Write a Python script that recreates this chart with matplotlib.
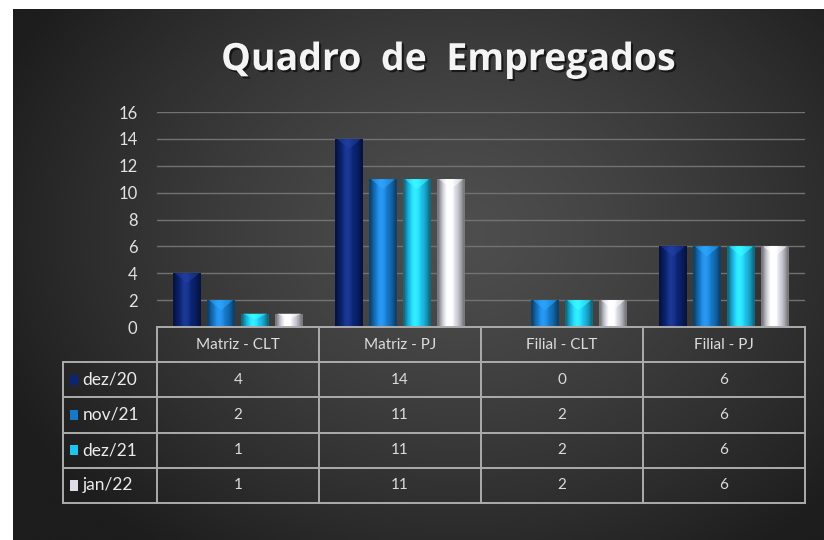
import numpy as np
import matplotlib
matplotlib.use("Agg")
import matplotlib.pyplot as plt
import matplotlib.patheffects as pe
from matplotlib.colors import LinearSegmentedColormap, to_rgb
from matplotlib.patches import Rectangle, Polygon

# dados do quadro
categorias = ['Matriz - CLT', 'Matriz - PJ', 'Filial - CLT', 'Filial - PJ']
periodos = ['dez/20', 'nov/21', 'dez/21', 'jan/22']
dez20 = [4, 14, 0, 6]
nov21 = [2, 11, 2, 6]
dez21 = [1, 11, 2, 6]
jan22 = [1, 11, 2, 6]
series = [dez20, nov21, dez21, jan22]
cores = ['#0b2475', '#1678c8', '#1ec3ef', '#dcdde6']
yticks = list(range(0, 17, 2))

plt.rcParams['font.family'] = ['Lato', 'DejaVu Sans']

W, H = 824, 540
fig = plt.figure(figsize=(W / 100, H / 100), dpi=100)
fig.patch.set_facecolor('white')

# fundo escuro com gradiente radial
bg = fig.add_axes([13 / W, 0, (W - 13) / W, (H - 9) / H])
bg.axis('off')
gx, gy = np.meshgrid(np.linspace(0, 1, 300), np.linspace(0, 1, 200))
d = np.sqrt(((gx - 0.55) / 0.62) ** 2 + ((gy - 0.42) / 0.75) ** 2)
d = np.clip(d, 0, 1) ** 1.3
cmap_bg = LinearSegmentedColormap.from_list('bg', ['#4e4e4e', '#1d1d1d'])
bg.imshow(d, cmap=cmap_bg, aspect='auto', extent=(0, 1, 0, 1), origin='upper', vmin=0, vmax=1)
bg.set_xlim(0, 1)
bg.set_ylim(0, 1)

# area do grafico
x0, x1 = 157, 805
y0, y16 = 327, 112
ax = fig.add_axes([x0 / W, (H - y0) / H, (x1 - x0) / W, (y0 - y16) / H])
ax.set_facecolor('none')
ax.set_xlim(-0.5, len(categorias) - 0.5)
ax.set_ylim(0, 16)
ax.set_yticks(yticks)
ax.set_yticklabels([str(t) for t in yticks])
ax.tick_params(axis='y', length=0, labelcolor='#e2e2e2', labelsize=12, pad=14)
ax.set_xticks([])
for s in ax.spines.values():
    s.set_visible(False)
for t in yticks[1:]:
    ax.axhline(t, color='#727272', lw=1.0, zorder=1)

bw = 0.168
step = 0.21
perfil = np.array([0.55, 0.8, 1.0, 1.12, 1.15, 1.1, 1.0, 0.9, 0.75, 0.55])
for i, (vals, cor) in enumerate(zip(series, cores)):
    base = np.array(to_rgb(cor))
    grad = np.clip(base[None, :] * perfil[:, None] + (perfil[:, None] - 1).clip(0) * 0.4, 0, 1)
    for j, v in enumerate(vals):
        if v == 0:
            continue
        xc = j + (i - 1.5) * step
        rect = Rectangle((xc - bw / 2, 0), bw, v, facecolor='none', edgecolor='none', zorder=3)
        ax.add_patch(rect)
        im = ax.imshow(grad[None, :, :], extent=(xc - bw / 2, xc + bw / 2, 0, v),
                       aspect='auto', zorder=3, interpolation='bilinear')
        im.set_clip_path(rect)
        topo = np.clip(base * 1.25 + 0.08, 0, 1)
        tri = Polygon([(xc - bw / 2 + 0.01, v), (xc + bw / 2 - 0.01, v), (xc, v - min(0.75, v * 0.45))],
                      closed=True, facecolor=topo, edgecolor='none', alpha=0.55, zorder=4)
        ax.add_patch(tri)
ax.set_xlim(-0.5, len(categorias) - 0.5)
ax.set_ylim(0, 16)

# tabela de dados
tx0, ty0, ty1 = 63, 327, 503
cw = (x1 - x0) / len(categorias)
xl = -0.5 - (x0 - tx0) / cw
nrows = len(periodos) + 1
tb = fig.add_axes([tx0 / W, (H - ty1) / H, (x1 - tx0) / W, (ty1 - ty0) / H])
tb.axis('off')
tb.set_xlim(xl, len(categorias) - 0.5)
tb.set_ylim(nrows, 0)
lc = '#acacac'
tb.plot([-0.5, len(categorias) - 0.5], [0, 0], color=lc, lw=1.4, clip_on=False)
for r in range(1, nrows + 1):
    tb.plot([xl, len(categorias) - 0.5], [r, r], color=lc, lw=1.4, clip_on=False)
tb.plot([xl, xl], [1, nrows], color=lc, lw=1.4, clip_on=False)
for c in range(len(categorias) + 1):
    tb.plot([c - 0.5, c - 0.5], [0, nrows], color=lc, lw=1.4, clip_on=False)

tcor = '#dcdcdc'
for j, cat in enumerate(categorias):
    tb.text(j, 0.5, cat, ha='center', va='center', color=tcor, fontsize=11)
for i, (per, vals, cor) in enumerate(zip(periodos, series, cores)):
    r = i + 1.5
    tb.add_patch(Rectangle((xl + 0.045, r - 0.15), 0.05, 0.3, facecolor=cor,
                           edgecolor='none', clip_on=False))
    tb.text(xl + 0.12, r, per, ha='left', va='center', color='#ececec', fontsize=12.5)
    for j, v in enumerate(vals):
        tb.text(j, r, str(v), ha='center', va='center', color=tcor, fontsize=11)

# titulo
fig.text(448 / W, 1 - 60 / H, 'Quadro  de  Empregados', ha='center', va='center',
         color='#f4f4f4', fontsize=27, fontweight='bold', family=['Open Sans', 'DejaVu Sans'],
         path_effects=[pe.withSimplePatchShadow(offset=(1.5, -1.5), shadow_rgbFace='black', alpha=0.6)])

fig.savefig('out.png', dpi=100, facecolor=fig.get_facecolor())
